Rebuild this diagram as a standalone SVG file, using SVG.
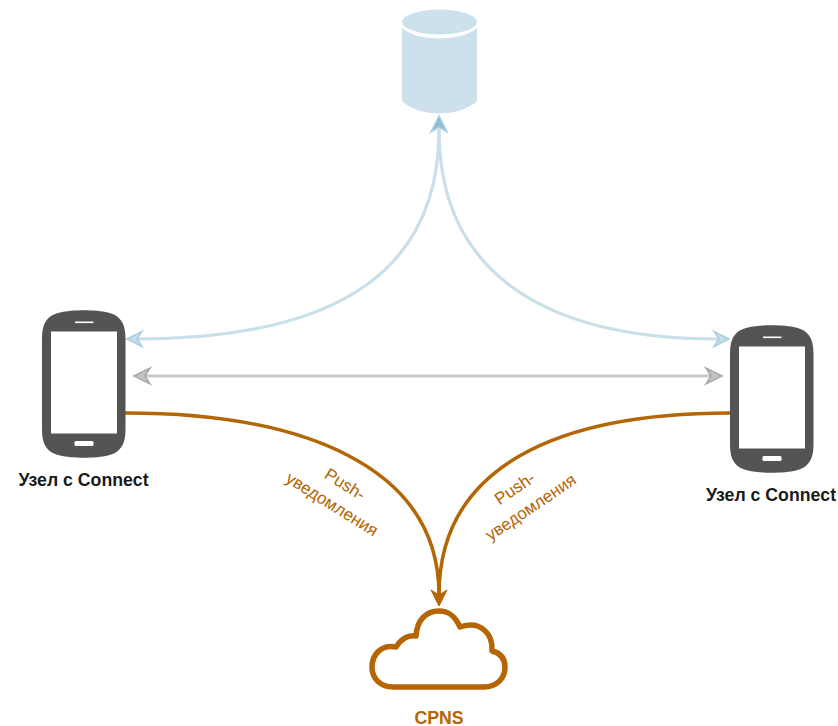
<svg xmlns="http://www.w3.org/2000/svg" width="838" height="726" viewBox="0 0 838 726">
<style>
.lbl{font-family:"Liberation Sans",Arial,sans-serif;font-weight:700;font-size:17.7px;fill:#1a1a1a;text-anchor:middle}
.push{font-family:"Liberation Sans",Arial,sans-serif;font-size:17px;fill:#b46504;text-anchor:middle}
.phone{fill:#545454}
.w{fill:#fff}
.c{fill:none;stroke-linecap:round}
.blue{stroke:#c9e0eb;stroke-width:3.200}
.grey{stroke:#c9c9c9;stroke-width:3.200}
.orange{stroke:#b46504;stroke-width:3.500}
.hb{fill:#c3dde9;stroke:#a9cfe0;stroke-width:1.500}
.ht{fill:#8dbbd3;stroke:#a9cfe0;stroke-width:1.500}
.hg{fill:#c4c4c4;stroke:#a8a8a8;stroke-width:1.500}
</style>
<defs>
<g id="ph">
<path class="phone" d="M42 338C42 322 48 315 60 312.500C72 309.500 96 309.500 108 312.500C119 315 125.500 322 125.500 338V430C125.500 446 119 453 108 455.500C96 458.500 72 458.500 60 455.500C48 453 42 446 42 430Z"/>
<rect class="w" x="51" y="331.500" width="66" height="102"/>
<rect class="w" x="75" y="321.500" width="18.500" height="1.600"/>
<rect class="w" x="74.500" y="441" width="19" height="5" rx="1.500"/>
</g>
</defs>
<g id="connectors">
<path class="c blue" d="M439 130C439 262 350 339 136 339"/>
<path class="c blue" d="M439 130C439 262 530 339 718 339"/>
<path class="hb" d="M127 339L142 331.500L137 339L142 346.500Z"/>
<path class="hb" d="M729 339L714 331.500L719 339L714 346.500Z"/>
<path class="ht" d="M439 116L431 132L439 127L447 132Z"/>
<path class="c grey" d="M146 376H711"/>
<path class="hg" d="M134 376L150 368L145 376L150 384Z"/>
<path class="hg" d="M722 376L706 368L711 376L706 384Z"/>
<path class="c orange" d="M125.500 413C300 413 439 465 439 595"/>
<path class="c orange" d="M730 413C560 413 439 465 439 595"/>
<path fill="#b46504" stroke="#b46504" d="M439 606L431 590L439 595L447 590Z"/>
</g>
<g id="database">
<ellipse cx="439.500" cy="22" rx="37.500" ry="12.500" fill="#cce1ec"/>
<path fill="#cce1ec" d="M402 28C410 35 425 38.500 439.500 38.500C454 38.500 469 35 477 28V101C469 109 454 113.500 439.500 113.500C425 113.500 410 109 402 101Z"/>
</g>
<g id="node-left">
<use href="#ph"/>
<text class="lbl" x="83.500" y="485.500">Узел с Connect</text>
</g>
<g id="node-right">
<use href="#ph" x="688" y="15"/>
<text class="lbl" x="771" y="500.500">Узел с Connect</text>
</g>
<g id="cloud">
<path fill="#fff" stroke="#b46504" stroke-width="5.500" stroke-linejoin="round" d="M393 687H484C497 687 505 678 505 667C505 658 500 653 492 651C493 634 481 620 460 627C455 616 449 611 439 611C426 611 417 620 416 636C407 635 401 639 396 647C381 644 372 655 372 667C372 679 381 687 393 687Z"/>
<text class="lbl" x="439" y="723.500" style="fill:#b46504">CPNS</text>
</g>
<g id="labels">
<text class="push" transform="translate(342 489) rotate(32)">Push-</text>
<text class="push" transform="translate(329 509) rotate(32)">уведомления</text>
<text class="push" transform="translate(518 493) rotate(-34)">Push-</text>
<text class="push" transform="translate(534 512) rotate(-34)">уведомления</text>
</g>
</svg>
